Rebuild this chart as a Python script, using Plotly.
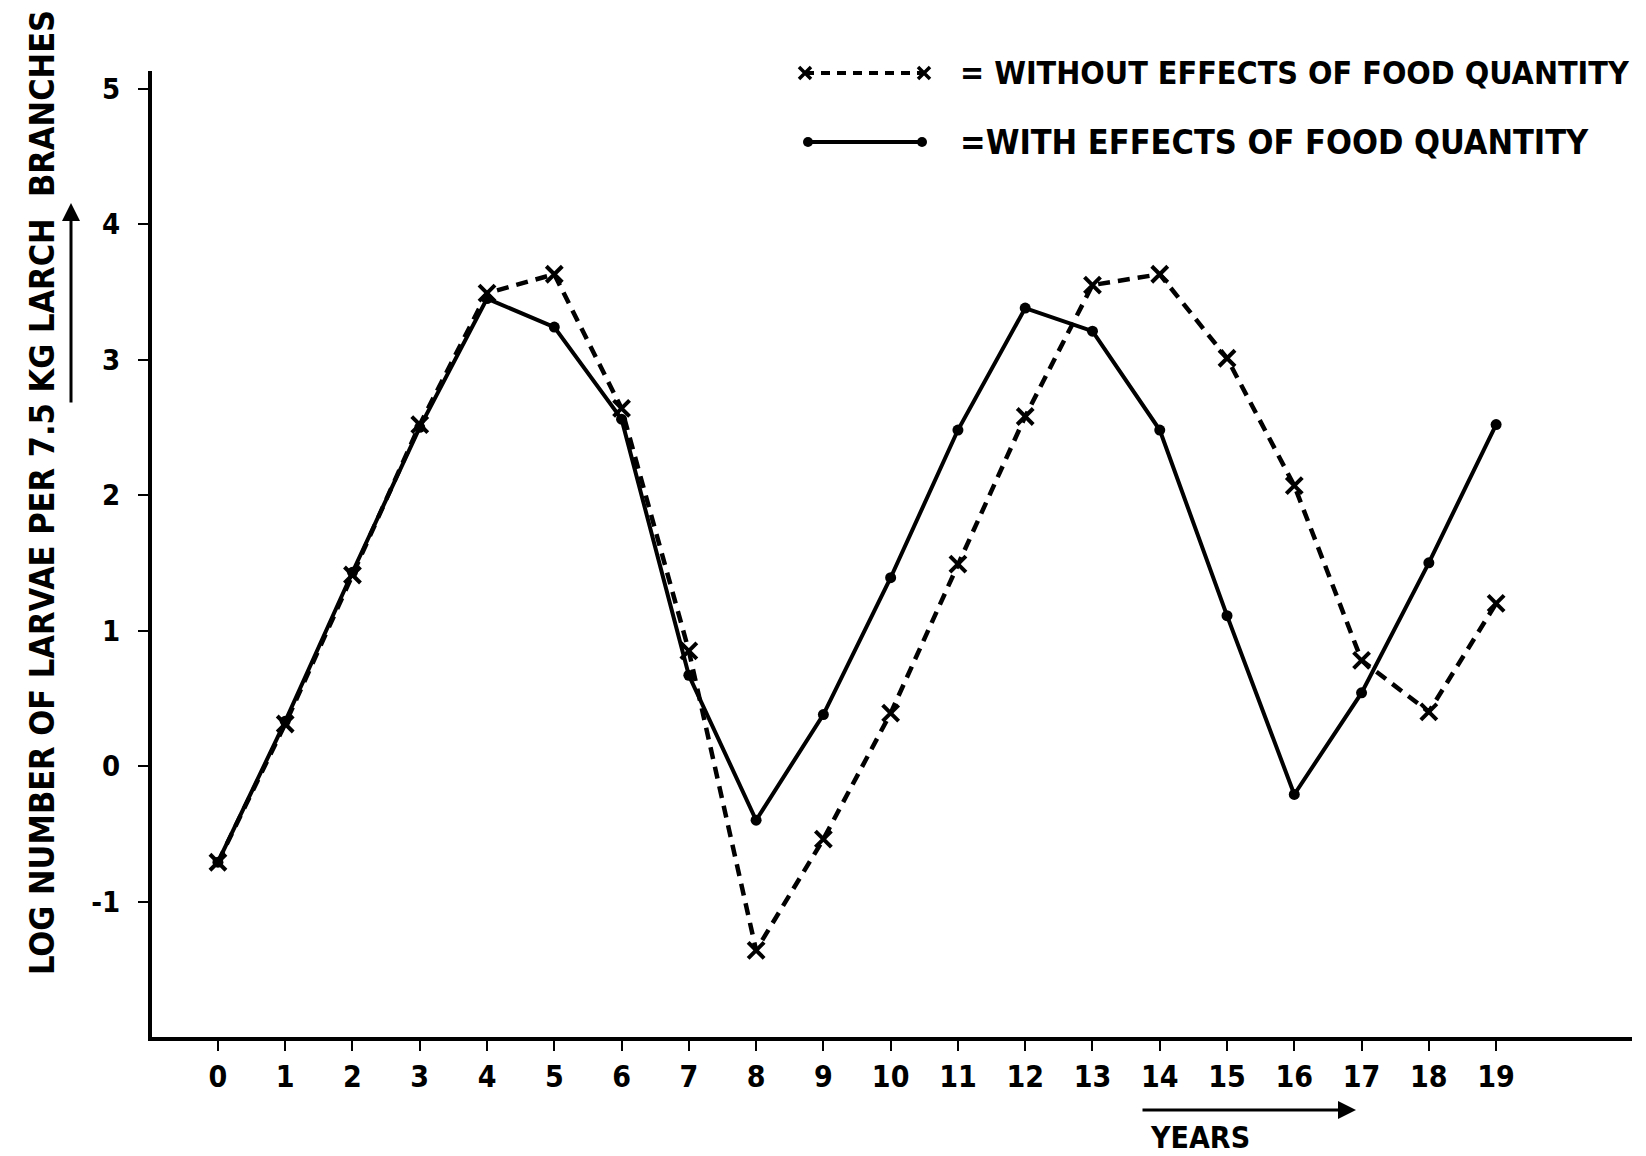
import plotly.graph_objects as go

years = list(range(20))
without_food = [-0.71, 0.31, 1.41, 2.52, 3.49, 3.63, 2.64, 0.85, -1.36, -0.54,
                0.39, 1.49, 2.58, 3.55, 3.63, 3.01, 2.07, 0.78, 0.40, 1.20]
with_food = [-0.71, 0.33, 1.43, 2.50, 3.45, 3.24, 2.56, 0.67, -0.40, 0.38,
             1.39, 2.48, 3.38, 3.21, 2.48, 1.11, -0.21, 0.54, 1.50, 2.52]
x_ticks = list(range(20))
y_ticks = [-1, 0, 1, 2, 3, 4, 5]

FONT = "DejaVu Sans Condensed, Liberation Sans Narrow, DejaVu Sans, sans-serif"

OFF = 8  # page body margin
L, T, W, H = 152 - OFF, 71 - OFF, 1480, 966
FW, FH = 1646 - OFF, 1156 - OFF


def px(x):
    return (x - OFF - L) / W


def py(y):
    return 1 - (y - OFF - T) / H


fig = go.Figure()
fig.add_trace(go.Scatter(
    x=years, y=without_food, mode="lines+markers",
    line=dict(color="black", width=4.5, dash="12px,8px"),
    marker=dict(symbol="x-thin-open", size=16, line=dict(color="black", width=4)),
    showlegend=False))
fig.add_trace(go.Scatter(
    x=years, y=with_food, mode="lines+markers",
    line=dict(color="black", width=4),
    marker=dict(symbol="circle", size=11, color="black"),
    showlegend=False))

# legend samples on an overlay axis spanning the plot area
fig.add_trace(go.Scatter(
    x=[px(805), px(924)], y=[py(73), py(73)], xaxis="x2", yaxis="y2", mode="lines+markers",
    line=dict(color="black", width=4, dash="9px,7px"),
    marker=dict(symbol="x-thin-open", size=12, line=dict(color="black", width=3.5)),
    showlegend=False, cliponaxis=False))
fig.add_trace(go.Scatter(
    x=[px(808), px(922)], y=[py(142), py(142)], xaxis="x2", yaxis="y2", mode="lines+markers",
    line=dict(color="black", width=4),
    marker=dict(symbol="circle", size=10, color="black"),
    showlegend=False, cliponaxis=False))

fig.update_layout(
    width=FW, height=FH,
    paper_bgcolor="white", plot_bgcolor="white",
    margin=dict(l=L, r=FW - L - W, t=T, b=FH - T - H),
    font=dict(family=FONT, color="black"),
    xaxis=dict(range=[-0.98, 21.02], tickvals=x_ticks, ticktext=[str(v) for v in x_ticks],
               showgrid=False, zeroline=False, showline=True, linecolor="black", linewidth=4,
               ticks="outside", ticklen=10, tickwidth=2, tickcolor="black",
               tickfont=dict(size=30, family=FONT, color="black", weight="bold")),
    yaxis=dict(range=[-2.0, 5.13], tickvals=y_ticks, ticktext=[str(v) for v in y_ticks],
               showgrid=False, zeroline=False, showline=True, linecolor="black", linewidth=4,
               ticks="outside", ticklen=10, tickwidth=2, tickcolor="black",
               ticklabelstandoff=12,
               tickfont=dict(size=29, family=FONT, color="black", weight="bold")),
    xaxis2=dict(overlaying="x", range=[0, 1], visible=False),
    yaxis2=dict(overlaying="y", range=[0, 1], visible=False),
)

# Legend texts
fig.add_annotation(x=px(958), y=py(73), xref="paper", yref="paper", xanchor="left", yanchor="middle",
                   text="= WITHOUT EFFECTS OF FOOD QUANTITY", showarrow=False,
                   font=dict(size=32, family=FONT, color="black", weight="bold"))
fig.add_annotation(x=px(958), y=py(142), xref="paper", yref="paper", xanchor="left", yanchor="middle",
                   text="=WITH EFFECTS OF FOOD QUANTITY", showarrow=False,
                   font=dict(size=34, family=FONT, color="black", weight="bold"))

# Y axis title with arrow
fig.add_annotation(x=px(42), y=py(493), xref="paper", yref="paper",
                   xanchor="center", yanchor="middle",
                   showarrow=False, text="LOG NUMBER OF LARVAE PER 7.5 KG LARCH  BRANCHES",
                   textangle=-90, font=dict(size=34, family=FONT, color="black", weight="bold"))
fig.add_annotation(x=px(71), y=py(203), ax=0, ay=201, axref="pixel", ayref="pixel",
                   xref="paper", yref="paper",
                   text="", showarrow=True, arrowhead=2, arrowsize=1.2, arrowwidth=3,
                   arrowcolor="black")

# X axis title with arrow
fig.add_annotation(x=px(1200), y=py(1137), xref="paper", yref="paper",
                   xanchor="center", yanchor="middle",
                   text="YEARS", showarrow=False,
                   font=dict(size=30, family=FONT, color="black", weight="bold"))
fig.add_annotation(x=px(1356), y=py(1110), ax=-215, ay=0, axref="pixel", ayref="pixel",
                   xref="paper", yref="paper",
                   text="", showarrow=True, arrowhead=2, arrowsize=1.2, arrowwidth=3,
                   arrowcolor="black")

fig.write_html("out.html")
